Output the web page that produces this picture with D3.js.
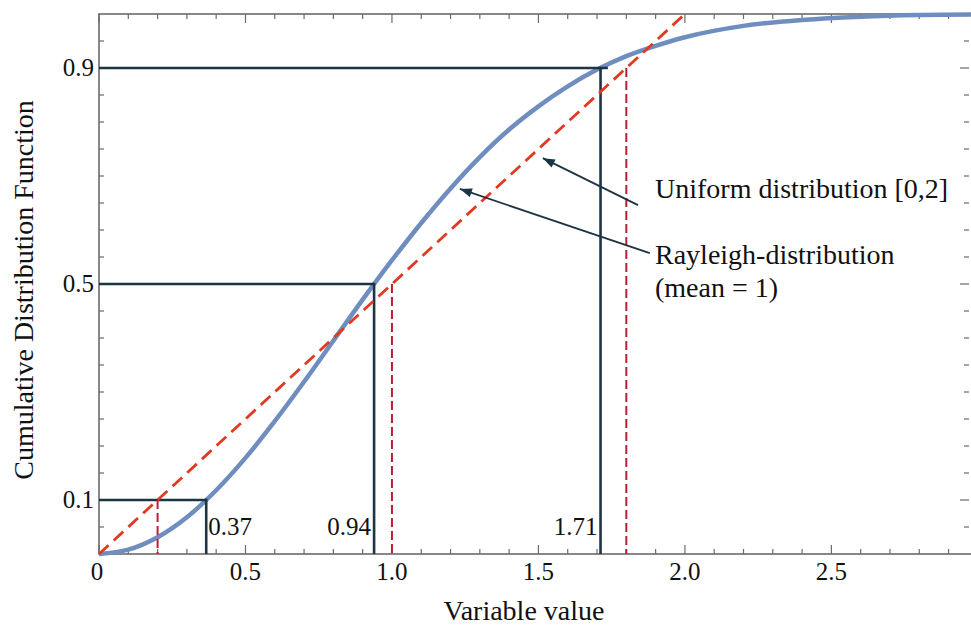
<!DOCTYPE html>
<html>
<head>
<meta charset="utf-8">
<script src="https://cdn.jsdelivr.net/npm/d3@7"></script>
<style>
  body { margin: 0; background: #fff; }
  svg { display: block; }
  text { font-family: "Liberation Serif", "DejaVu Serif", serif; fill: #111; }
</style>
</head>
<body>
<script>
// values
const xTickLabels = [0, 0.5, 1.0, 1.5, 2.0, 2.5];
const yTickLabels = [0.1, 0.5, 0.9];

// Rayleigh CDF (mean = 1)
const rayleighX = [0, 0.1, 0.2, 0.3, 0.4, 0.5, 0.6, 0.7, 0.8, 0.9, 1.0, 1.1, 1.2, 1.3, 1.4, 1.5,
                   1.6, 1.7, 1.8, 1.9, 2.0, 2.2, 2.4, 2.6, 2.8, 3.0];
const rayleighY = [0, 0.008, 0.031, 0.068, 0.118, 0.178, 0.246, 0.319, 0.395, 0.471, 0.544, 0.613,
                   0.677, 0.735, 0.786, 0.829, 0.866, 0.897, 0.922, 0.941, 0.957, 0.978, 0.989,
                   0.995, 0.998, 0.999];

// uniform [0,2] CDF
const uniformX = [0, 2];
const uniformY = [0, 1];

// quantiles
const quantileP = [0.1, 0.5, 0.9];
const rayleighQ = [0.366, 0.939, 1.712];
const rayleighQLabels = ["0.37", "0.94", "1.71"];
const uniformQ = [0.2, 1.0, 1.8];

const width = 971, height = 628;
const mLeft = 99, mRight = 972, mTop = 14, mBottom = 554;

const x = d3.scaleLinear().domain([0, 2.98]).range([mLeft, mRight]);
const y = d3.scaleLinear().domain([0, 1]).range([mBottom, mTop]);

const svg = d3.select('body').append('svg')
    .attr('width', width)
    .attr('height', height);

const defs = svg.append('defs');
defs.append('marker')
    .attr('id', 'arrow')
    .attr('viewBox', '0 -5 12 10')
    .attr('refX', 12).attr('refY', 0)
    .attr('markerWidth', 13).attr('markerHeight', 10)
    .attr('markerUnits', 'userSpaceOnUse')
    .attr('orient', 'auto')
    .append('path')
    .attr('d', 'M0,-4.5L12,0L0,4.5Z')
    .attr('fill', '#1c3444');

// frame ticks
const frameColor = '#6b6b6b';
const xMinor = d3.range(0, 30).map(i => i / 10);
const yMinor = d3.range(1, 20).map(i => i / 20);
const isMajorX = v => Math.abs(v * 2 - Math.round(v * 2)) < 1e-6;

const ticks = svg.append('g').attr('stroke', frameColor).attr('stroke-width', 1.2);
xMinor.forEach(v => {
    const len = isMajorX(v) ? 9 : 5;
    ticks.append('line').attr('x1', x(v)).attr('x2', x(v)).attr('y1', mBottom).attr('y2', mBottom - len);
    ticks.append('line').attr('x1', x(v)).attr('x2', x(v)).attr('y1', mTop).attr('y2', mTop + len);
});
yMinor.forEach(v => {
    const len = yTickLabels.some(t => Math.abs(t - v) < 1e-6) ? 9 : 5;
    ticks.append('line').attr('x1', mLeft).attr('x2', mLeft + len).attr('y1', y(v)).attr('y2', y(v));
    ticks.append('line').attr('x1', mRight - 3).attr('x2', mRight - 3 - len).attr('y1', y(v)).attr('y2', y(v));
});

svg.append('rect')
    .attr('x', mLeft).attr('y', mTop)
    .attr('width', mRight - mLeft).attr('height', mBottom - mTop)
    .attr('fill', 'none')
    .attr('stroke', frameColor)
    .attr('stroke-width', 1.6);

// blue Rayleigh curve
const line = d3.line().x(d => x(d[0])).y(d => y(d[1])).curve(d3.curveMonotoneX);
svg.append('path')
    .datum(rayleighX.map((v, i) => [v, rayleighY[i]]))
    .attr('d', line)
    .attr('fill', 'none')
    .attr('stroke', '#6f8dbf')
    .attr('stroke-width', 4.5);

// dark quantile lines
const dark = '#1c3444';
quantileP.forEach((p, i) => {
    const xEnd = rayleighQ[i] + (i === 2 ? 0.025 : 0);
    svg.append('path')
        .attr('d', d3.line()([[x(0), y(p)], [x(xEnd), y(p)]]))
        .attr('stroke', dark)
        .attr('stroke-width', 2.6);
    svg.append('path')
        .attr('d', d3.line()([[x(rayleighQ[i]), y(p) - 1.3], [x(rayleighQ[i]), y(0)]]))
        .attr('stroke', dark)
        .attr('stroke-width', 2.6);
});

// uniform quantile dashed lines
quantileP.forEach((p, i) => {
    svg.append('line')
        .attr('x1', x(uniformQ[i])).attr('x2', x(uniformQ[i]))
        .attr('y1', y(p)).attr('y2', y(0))
        .attr('stroke', '#c01d35')
        .attr('stroke-width', 2)
        .attr('stroke-dasharray', '9,4');
});

// uniform CDF dashed line
svg.append('path')
    .datum(uniformX.map((v, i) => [v, uniformY[i]]))
    .attr('d', d3.line().x(d => x(d[0])).y(d => y(d[1])))
    .attr('fill', 'none')
    .attr('stroke', '#e03a22')
    .attr('stroke-width', 2.8)
    .attr('stroke-dasharray', '13,7');

// tick labels
svg.append('g').selectAll('text')
    .data(xTickLabels)
    .enter().append('text')
    .attr('x', d => x(d) - (d === 0 ? 2 : 0))
    .attr('y', 580)
    .attr('text-anchor', 'middle')
    .style('font-size', '25px')
    .text(d => d === 0 ? '0' : d3.format('.1f')(d));

svg.append('g').selectAll('text')
    .data(yTickLabels)
    .enter().append('text')
    .attr('x', 94)
    .attr('y', d => y(d) + 8)
    .attr('text-anchor', 'end')
    .style('font-size', '25px')
    .text(d => d3.format('.1f')(d));

// quantile labels
rayleighQLabels.forEach((t, i) => {
    svg.append('text')
        .attr('x', i === 0 ? x(rayleighQ[i]) + 2 : x(rayleighQ[i]) - 3)
        .attr('y', 535)
        .attr('text-anchor', i === 0 ? 'start' : 'end')
        .style('font-size', '25px')
        .text(t);
});

// axis titles
svg.append('text')
    .attr('x', 524).attr('y', 620)
    .attr('text-anchor', 'middle')
    .style('font-size', '28px')
    .text('Variable value');

svg.append('text')
    .attr('transform', 'translate(33,290) rotate(-90)')
    .attr('text-anchor', 'middle')
    .style('font-size', '28px')
    .text('Cumulative Distribution Function');

// annotations
svg.append('line')
    .attr('x1', x(1.84)).attr('y1', y(0.646))
    .attr('x2', x(1.515)).attr('y2', y(0.733))
    .attr('stroke', dark).attr('stroke-width', 1.8)
    .attr('marker-end', 'url(#arrow)');
svg.append('line')
    .attr('x1', x(1.88)).attr('y1', y(0.557))
    .attr('x2', x(1.232)).attr('y2', y(0.676))
    .attr('stroke', dark).attr('stroke-width', 1.8)
    .attr('marker-end', 'url(#arrow)');

svg.append('text').attr('x', 655).attr('y', 198).style('font-size', '28px').text('Uniform distribution [0,2]');
svg.append('text').attr('x', 655).attr('y', 264).style('font-size', '28px').text('Rayleigh-distribution');
svg.append('text').attr('x', 655).attr('y', 297).style('font-size', '28px').text('(mean = 1)');
</script>
</body>
</html>
